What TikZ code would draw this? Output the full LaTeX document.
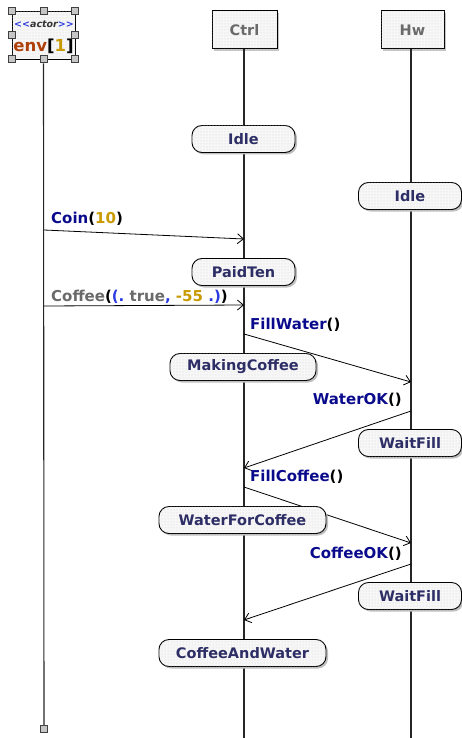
\documentclass[tikz,border=0pt]{standalone}
\usepackage{fontspec}
\setmainfont{DejaVu Sans}
\usetikzlibrary{shadows,arrows.meta,patterns}
\definecolor{stnavy}{HTML}{2E2E66}
\definecolor{msgblue}{HTML}{0A0A8C}
\definecolor{numgold}{HTML}{C89A00}
\definecolor{lgray}{HTML}{6A6A6A}
\definecolor{envred}{HTML}{B0400A}
\definecolor{kwblue}{HTML}{2A3AE0}
\tikzset{
  dotfill/.style={fill=gray!6, postaction={pattern=dots, pattern color=gray!35}},
  lifebox/.style={draw, line width=1pt, dotfill, minimum height=38pt,
    drop shadow={shadow xshift=2pt, shadow yshift=-2pt, fill=gray!45, opacity=1},
    font=\bfseries\fontsize{14.5}{16}\selectfont, text=lgray},
  state/.style={draw, line width=0.9pt, rounded corners=10pt, dotfill, minimum height=27pt,
    drop shadow={shadow xshift=2pt, shadow yshift=-2pt, fill=gray!50, opacity=1},
    font=\bfseries\fontsize{14.5}{16}\selectfont, text=stnavy, inner sep=0pt},
  lline/.style={line width=1.1pt, black!85},
  msg/.style={line width=0.8pt, -{Straight Barb[length=6pt,width=10pt,line width=0.8pt]}},
  mlabel/.style={font=\bfseries\fontsize{15}{17}\selectfont, inner sep=0pt},
  handle/.style={draw=black!75, line width=1pt, fill=gray!45, minimum size=7pt, inner sep=0pt}
}
\begin{document}
\begin{tikzpicture}[x=1pt,y=-1pt]
\useasboundingbox (0,0) rectangle (461,738);
% actor box
\node[draw, line width=0.8pt, dotfill, minimum width=63pt, minimum height=48pt, inner sep=0pt] (env) at (43.5,35) {};
\node[font=\bfseries\itshape\fontsize{9.5}{10}\selectfont, inner sep=0pt] (stereo) at (44,24) {\textcolor{kwblue}{<{}<}\textcolor{black!80}{actor}\textcolor{kwblue}{>{}>}};
\node[font=\bfseries\fontsize{16.5}{18}\selectfont, inner sep=0pt] (envname) at (43.5,46) {\textcolor{envred}{env}[\textcolor{numgold}{1}]};
\node[handle] (h1) at (env.north west) {};
\node[handle] (h2) at (env.north) {};
\node[handle] (h3) at (env.north east) {};
\node[handle] (h4) at (env.west) {};
\node[handle] (h5) at (env.east) {};
\node[handle] (h6) at (env.south west) {};
\node[handle] (h7) at (env.south) {};
\node[handle] (h8) at (env.south east) {};
% lifeline heads
\node[lifebox, minimum width=65pt] (ctrl) at (244.5,30) {Ctrl};
\node[lifebox, minimum width=63pt] (hw) at (412.5,30) {Hw};
% lifelines
\coordinate (envend) at (44,729);
\coordinate (ctrlend) at (244,738);
\coordinate (hwend) at (411,738);
\draw[lline] (h7) -- (envend);
\draw[lline] (ctrl.south -| ctrlend) -- (ctrlend);
\draw[lline] (hw.south -| hwend) -- (hwend);
\node[handle] (h9) at (envend) {};
% messages
\coordinate (m1s) at (44,230); \coordinate (m1e) at (244,239);
\coordinate (m2s) at (44,306); \coordinate (m2e) at (244,305);
\coordinate (m3s) at (244,334); \coordinate (m3e) at (411,382);
\coordinate (m4s) at (411,411); \coordinate (m4e) at (244,468);
\coordinate (m5s) at (244,487); \coordinate (m5e) at (411,543);
\coordinate (m6s) at (411,564); \coordinate (m6e) at (244,620);
\draw[msg] (m1s) -- (m1e);
\draw[msg] (m2s) -- (m2e);
\draw[msg] (m3s) -- (m3e);
\draw[msg] (m4s) -- (m4e);
\draw[msg] (m5s) -- (m5e);
\draw[msg] (m6s) -- (m6e);
\node[mlabel, anchor=west] (l1) at (51,219) {\textcolor{msgblue}{Coin}(\textcolor{numgold}{10})};
\node[mlabel, anchor=west] (l2) at (51,297) {\textcolor{lgray}{Coffee}(\textcolor{kwblue}{(.}\ \textcolor{lgray}{true}\textcolor{kwblue}{,}\ \textcolor{numgold}{-55}\ \textcolor{kwblue}{.)})};
\node[mlabel, anchor=west] (l3) at (250,325) {\textcolor{msgblue}{FillWater}()};
\node[mlabel, anchor=east] (l4) at (402,400) {\textcolor{msgblue}{WaterOK}()};
\node[mlabel, anchor=west] (l5) at (250,477) {\textcolor{msgblue}{FillCoffee}()};
\node[mlabel, anchor=east] (l6) at (402,554) {\textcolor{msgblue}{CoffeeOK}()};
% states
\node[state, minimum width=103pt] (s1) at (243.5,139) {Idle};
\node[state, minimum width=103pt] (s2) at (410,196) {Idle};
\node[state, minimum width=103pt] (s3) at (243.5,272) {PaidTen};
\node[state, minimum width=146pt] (s4) at (243,367) {MakingCoffee};
\node[state, minimum width=103pt] (s5) at (410,443) {WaitFill};
\node[state, minimum width=167pt] (s6) at (242.5,520) {WaterForCoffee};
\node[state, minimum width=103pt] (s7) at (410,596) {WaitFill};
\node[state, minimum width=167pt] (s8) at (242.5,653) {CoffeeAndWater};
\end{tikzpicture}
\end{document}
